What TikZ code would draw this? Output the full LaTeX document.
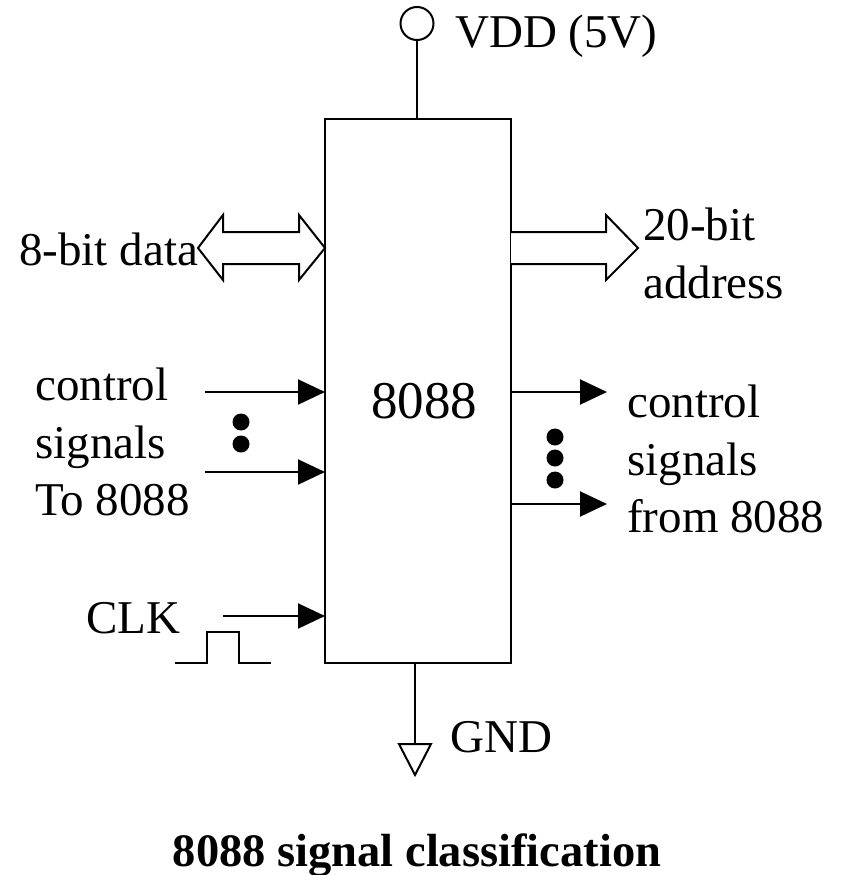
\documentclass[tikz,border=0pt]{standalone}
\usepackage{fontspec}
\setmainfont{Liberation Serif}
\usetikzlibrary{arrows.meta}
\tikzset{
 lbl/.style={inner sep=0pt,anchor=base west,font=\fontsize{47}{47}\selectfont},
 sig/.style={line width=2pt,-{Triangle[length=27pt,width=25pt]}},
 fat/.style={line width=2pt,fill=white,line join=miter},
 thinl/.style={line width=2pt},
 dotn/.style={circle,fill=black,inner sep=0pt,minimum size=17pt}
}
\begin{document}
\begin{tikzpicture}[x=1pt,y=-1pt]
\useasboundingbox (0,0) rectangle (842,875);
% body
\node[draw,line width=2pt,outer sep=0pt,minimum width=186pt,minimum height=544pt,inner sep=0pt,anchor=north west] (chip) at (325,119) {};
\node[lbl,font=\fontsize{53}{53}\selectfont] (chipname) at (371,418) {8088};
% VDD
\node[draw,circle,line width=2pt,outer sep=0pt,minimum size=33pt,inner sep=0pt] (vcc) at (417,23.5) {};
\draw[thinl] (vcc.south) -- (vcc.south |- chip.north);
\node[lbl] (vddl) at (455,48) {VDD (5V)};
% GND
\coordinate (gt) at (415,744);
\draw[thinl] (gt |- chip.south) -- (gt);
\draw[fat] (399,744) -- (431,744) -- (415,775) -- cycle;
\node[lbl] (gndl) at (450,752) {GND};
% data bus
\node[lbl] (datal) at (19,265) {8-bit data};
\draw[fat] (325,248) -- (299,215) -- (299,232) -- (223,232) -- (223,215) -- (198,248) -- (223,280) -- (223,264) -- (299,264) -- (299,280) -- cycle;
% address bus
\draw[fat] (511,232) -- (606,232) -- (606,215) -- (638,248) -- (606,280) -- (606,264) -- (511,264);
\node[lbl] (a1) at (643,240) {20-bit};
\node[lbl] (a2) at (643,298) {address};
% control in
\coordinate (i1) at (205,392); \coordinate (i2) at (205,472); \coordinate (i3) at (223,616);
\draw[sig] (i1) -- (i1 -| chip.west);
\draw[sig] (i2) -- (i2 -| chip.west);
\draw[sig] (i3) -- (i3 -| chip.west);
\node[lbl] at (35,400) {control};
\node[lbl] at (35,458) {signals};
\node[lbl] at (35,515) {To 8088};
\node[lbl] at (86,633) {CLK};
\node[dotn] (d1) at (241,422) {};
\node[dotn] (d2) at (241,444) {};
% control out
\coordinate (o1) at (607,392); \coordinate (o2) at (607,504);
\draw[sig] (o1 -| chip.east) -- (o1);
\draw[sig] (o2 -| chip.east) -- (o2);
\node[lbl] at (627,417) {control};
\node[lbl] at (627,475) {signals};
\node[lbl] at (627,532) {from 8088};
\node[dotn] (d3) at (555,437) {};
\node[dotn] (d4) at (555,458) {};
\node[dotn] (d5) at (555,480) {};
% clock
\draw[thinl] (175,663) -- (207,663) -- (207,632) -- (239,632) -- (239,663) -- (271,663);
% title
\node[inner sep=0pt,anchor=base,font=\fontsize{46.5}{46.5}\selectfont\bfseries] (title) at (417,866) {8088 signal classification};
\end{tikzpicture}
\end{document}
